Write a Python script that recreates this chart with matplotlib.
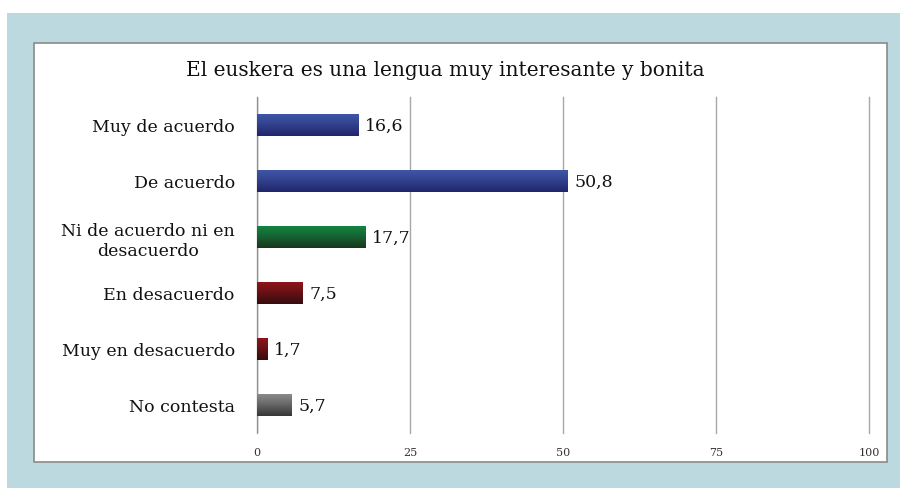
import matplotlib
matplotlib.use("Agg")
import matplotlib.pyplot as plt
import numpy as np
from matplotlib.patches import Rectangle
from matplotlib.colors import LinearSegmentedColormap

title = "El euskera es una lengua muy interesante y bonita"
categories = ["Muy de acuerdo", "De acuerdo", "Ni de acuerdo ni en\ndesacuerdo",
              "En desacuerdo", "Muy en desacuerdo", "No contesta"]
values = [16.6, 50.8, 17.7, 7.5, 1.7, 5.7]
value_labels = ["16,6", "50,8", "17,7", "7,5", "1,7", "5,7"]
xticks = [0, 25, 50, 75, 100]

top_colors = ["#4058AA", "#4058AA", "#128842", "#921519", "#921519", "#8E8E8E"]
bot_colors = ["#20256A", "#20256A", "#1A361D", "#360C0F", "#360C0F", "#363636"]

fig = plt.figure(figsize=(9, 4.89), dpi=100)
W, H = 900, 489

# outer light-blue panel
fig.patches.append(Rectangle((7 / W, 0), 1 - 7 / W, 1 - 14 / H, transform=fig.transFigure,
                             facecolor="#BCD9DF", edgecolor="none", zorder=0))
# inner white panel
fig.patches.append(Rectangle((34 / W, 1 - 463 / H), (887 - 34) / W, (463 - 44) / H,
                             transform=fig.transFigure, facecolor="white",
                             edgecolor="#8A8A8A", linewidth=1.2, zorder=1))

ax = fig.add_axes([257 / W, 1 - 434 / H, 612 / W, 336 / H])
ax.set_zorder(2)
ax.patch.set_alpha(0)

y = np.arange(len(categories))
bars = ax.barh(y, values, height=0.41, color="none", edgecolor="none", zorder=3)
grad = np.concatenate([np.linspace(0, 0.35, 100), np.linspace(0.35, 1, 156)]).reshape(-1, 1)
for b, tc, bc in zip(bars, top_colors, bot_colors):
    cmap = LinearSegmentedColormap.from_list("g", [tc, bc])
    x0, y0 = b.get_x(), b.get_y()
    w, h = b.get_width(), b.get_height()
    im = ax.imshow(grad, cmap=cmap, aspect="auto", extent=(x0, x0 + w, y0 + h, y0),
                   zorder=3, interpolation="bilinear")
    im.set_clip_path(b)

for yi, v, lab in zip(y, values, value_labels):
    ax.text(v + 1.0, yi, lab, va="center", ha="left", fontsize=12.5,
            family="DejaVu Serif", color="#111111", zorder=4)

ax.set_xlim(0, 100)
ax.set_ylim(5.5, -0.5)
ax.set_xticks(xticks)
ax.set_xticklabels([str(t) for t in xticks], family="DejaVu Serif", fontsize=8,
                   color="#333333")
ax.set_yticks(y)
ax.set_yticklabels(categories, family="DejaVu Serif", fontsize=12.5, color="#111111",
                   linespacing=1.25)
for t in ax.get_yticklabels():
    t.set_multialignment("center")
ax.tick_params(axis="both", length=0)
ax.tick_params(axis="y", pad=16)
ax.tick_params(axis="x", pad=10)
for s in ax.spines.values():
    s.set_visible(False)
ax.xaxis.grid(True, color="#A8A8A8", linewidth=1.0)
for gl in ax.get_xgridlines():
    gl.set_clip_on(False)
ax.set_axisbelow(True)
ax.axvline(0, color="#909090", linewidth=1.0, zorder=2)

fig.text(445 / W, 1 - 71 / H, title, ha="center", va="center", family="DejaVu Serif",
         fontsize=14.5, color="#111111")

fig.savefig("out.png", dpi=100)
